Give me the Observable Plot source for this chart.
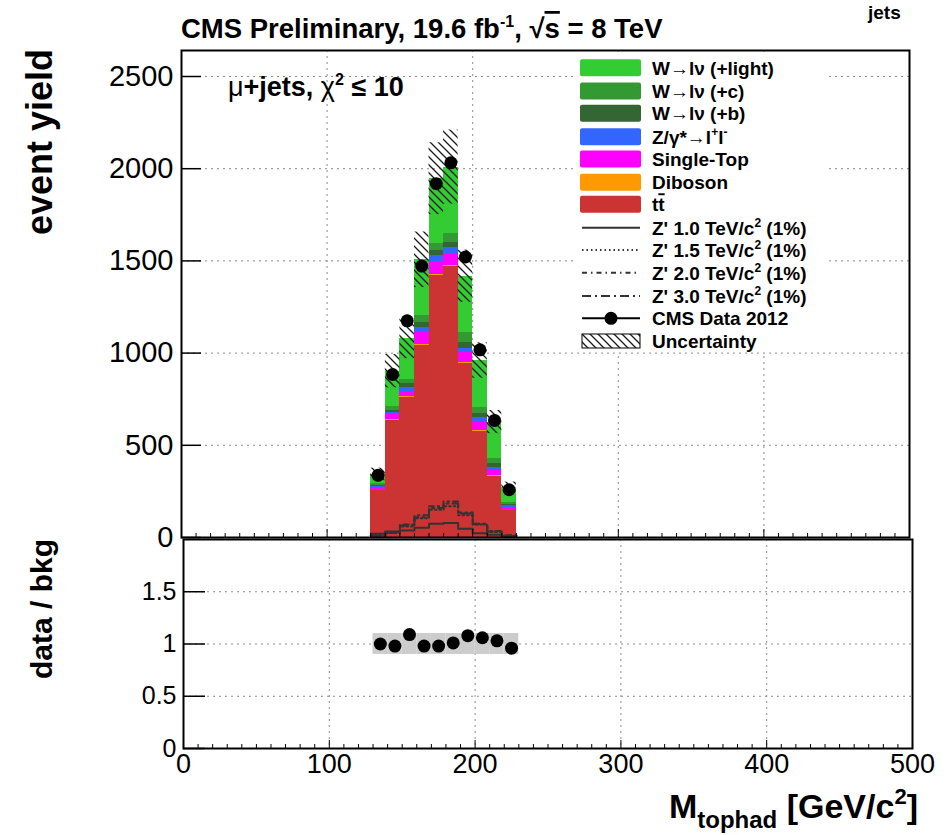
<!DOCTYPE html>
<html><head><meta charset="utf-8">
<script src="https://cdn.jsdelivr.net/npm/d3@7"></script>
<script src="https://cdn.jsdelivr.net/npm/@observablehq/plot@0.6"></script>
<style>
body{margin:0;background:#fff;}
#wrap{position:relative;width:949px;height:835px;overflow:hidden;background:#fff;}
#wrap svg{position:absolute;left:0;top:0;overflow:visible;}
</style></head><body>
<div id="wrap"></div>
<script>
// ---------------- data ----------------
const binLow  = [130,140,150,160,170,180,190,200,210,220];
const binHigh = [140,150,160,170,180,190,200,210,220,230];
const ttbar     = [253,635,760,1041,1422,1471,943,575,332,145];
const diboson   = [2,5,5,6,6,6,5,4,3,2];
const singleTop = [13,26,28,65,67,62,57,50,33,18];
const zjets     = [7,11,23,26,33,31,22,24,14,7];
const wPlusB    = [6,14,17,26,26,31,33,21,18,8];
const wPlusC    = [10,20,26,40,39,46,50,31,27,12];
const wLight    = [51,191,219,302,353,362,307,255,199,81];
const dataYield = [337,884,1175,1472,1919,2032,1521,1018,635,259];
const dataRatio = [1.00,0.98,1.09,0.98,0.98,1.01,1.08,1.06,1.03,0.96];
const relUnc    = [0.10,0.10,0.10,0.10,0.10,0.10,0.10,0.10,0.10,0.10];
const zp1000 = [20,32,38,53,74,78,47,23,15,7];
const zp1500 = [10,25,60,105,150,170,120,70,30,10];
const zp2000 = [12,30,70,120,170,195,135,75,35,12];
const zp3000 = [10,25,65,110,160,185,130,72,32,10];
const xTicks = [0,100,200,300,400,500];
const xMinor = [10,20,30,40,50,60,70,80,90,110,120,130,140,150,160,170,180,190,210,220,230,240,250,260,270,280,290,310,320,330,340,350,360,370,380,390,410,420,430,440,450,460,470,480,490];
const yTicksMain = [0,500,1000,1500,2000,2500];
const yTicksRatio = [0,0.5,1,1.5];
const compNames  = ["tt","Diboson","Single-Top","Z","Wb","Wc","Wlight"];
const compColors = ["#cc3333","#ff9900","#ff00ff","#3366ff","#336633","#339933","#33cc33"];

// ---------------- derived tables ----------------
const FONT = "'Liberation Sans', Arial, Helvetica, sans-serif";
const compValues = [ttbar, diboson, singleTop, zjets, wPlusB, wPlusC, wLight];
const stackRows = [];
compValues.forEach((vals, c) => vals.forEach((v, i) => stackRows.push({x1: binLow[i], x2: binHigh[i], comp: compNames[c], v})));
const totals = binLow.map((_, i) => compValues.reduce((s, vals) => s + vals[i], 0));
const uncRows = binLow.map((lo, i) => ({x1: lo, x2: binHigh[i], y1: totals[i] * (1 - relUnc[i]), y2: totals[i] * (1 + relUnc[i])}));
const bandRows = binLow.map((lo, i) => ({x1: lo, x2: binHigh[i], y1: 1 - relUnc[i], y2: 1 + relUnc[i]}));
const dataRows = binLow.map((lo, i) => ({x: (lo + binHigh[i]) / 2, y: dataYield[i], r: dataRatio[i]}));
function steps(vals) { const p = []; vals.forEach((v, i) => { p.push({x: binLow[i], y: v}); p.push({x: binHigh[i], y: v}); }); return p; }
const sigStyles = [
  {vals: zp1000, dash: null},
  {vals: zp1500, dash: "1.5,3"},
  {vals: zp2000, dash: "5,4,1.5,4"},
  {vals: zp3000, dash: "9,4,2,4"}
];
const grid = {stroke: "#8c8c8c", strokeDasharray: "2,4", strokeWidth: 1};

// ---------------- main panel ----------------
const main = Plot.plot({
  width: 949, height: 538,
  marginLeft: 181, marginRight: 40, marginTop: 50, marginBottom: 1,
  x: {domain: [0, 500], axis: null},
  y: {domain: [0, 2641], axis: null},
  color: {type: "ordinal", domain: compNames, range: compColors},
  style: {fontFamily: FONT, background: "transparent", color: "black", overflow: "visible"},
  marks: [
    Plot.ruleX(xTicks.slice(1, -1), grid),
    Plot.ruleY(yTicksMain.slice(1), grid),
    Plot.rectY(stackRows, {x1: "x1", x2: "x2", y: "v", fill: "comp", order: compNames, shapeRendering: "crispEdges"}),
    Plot.rectY(uncRows, {x1: "x1", x2: "x2", y1: "y1", y2: "y2", fill: "url(#hatch)"}),
    ...sigStyles.map(s => Plot.line(steps(s.vals), {x: "x", y: "y", stroke: "#333", strokeWidth: 2, strokeDasharray: s.dash})),
    Plot.dot(dataRows, {x: "x", y: "y", r: 6.5, fill: "black"}),
    Plot.axisY(yTicksMain, {anchor: "left", tickSize: 0, tickPadding: 8, fontSize: 29, tickFormat: d => String(d), label: null}),
    Plot.axisY(yTicksMain, {anchor: "left", tickSize: -20, fill: "none", label: null, strokeWidth: 1.5}),
    Plot.axisX(xMinor, {anchor: "bottom", tickSize: -4, fill: "none", label: null}),
    Plot.axisX(xTicks, {anchor: "bottom", tickSize: -8, fill: "none", label: null}),
    Plot.frame({stroke: "black", strokeWidth: 2})
  ]
});

// ---------------- ratio panel ----------------
const ratioPlot = Plot.plot({
  width: 949, height: 835,
  marginLeft: 183, marginRight: 37, marginTop: 539, marginBottom: 87,
  x: {domain: [0, 500], axis: null},
  y: {domain: [0, 2], axis: null},
  style: {fontFamily: FONT, background: "transparent", color: "black", overflow: "visible"},
  marks: [
    Plot.ruleX(xTicks.slice(1, -1), grid),
    Plot.ruleY(yTicksRatio.slice(1), grid),
    Plot.rectY(bandRows, {x1: "x1", x2: "x2", y1: "y1", y2: "y2", fill: "#cccccc"}),
    Plot.dot(dataRows, {x: "x", y: "r", r: 6.5, fill: "black"}),
    Plot.axisY(yTicksRatio, {anchor: "left", tickSize: 0, tickPadding: 7, fontSize: 25, tickFormat: d => String(d), label: null}),
    Plot.axisY(yTicksRatio, {anchor: "left", tickSize: -22, fill: "none", label: null, strokeWidth: 1.5}),
    Plot.axisX(xTicks, {anchor: "bottom", tickSize: 0, tickPadding: 5, fontSize: 27, tickFormat: d => String(d), label: null}),
    Plot.axisX(xMinor, {anchor: "bottom", tickSize: -4, fill: "none", label: null}),
    Plot.axisX(xTicks, {anchor: "bottom", tickSize: -8, fill: "none", label: null}),
    Plot.frame({stroke: "black", strokeWidth: 2})
  ]
});

const wrap = document.getElementById("wrap");
wrap.appendChild(main);
wrap.appendChild(ratioPlot);

// hatch pattern
const defs = d3.select(main).insert("defs", ":first-child");
defs.append("pattern").attr("id", "hatch").attr("patternUnits", "userSpaceOnUse").attr("width", 8).attr("height", 8)
  .append("path").attr("d", "M0,0L8,8M-4,4L4,12M4,-4L12,4").attr("stroke", "#1a1a1a").attr("stroke-width", 1.3);

// ---------------- overlay texts & legend ----------------
const ov = d3.select(wrap).append("svg").attr("width", 949).attr("height", 835).attr("font-family", FONT);

// title
const t = ov.append("text").attr("x", 181).attr("y", 38).attr("font-size", 27.5).attr("font-weight", "bold");
t.append("tspan").text("CMS Preliminary, 19.6 fb");
t.append("tspan").attr("font-size", 16).attr("dy", -11).text("-1");
t.append("tspan").attr("dy", 11).text(", √");
t.append("tspan").style("text-decoration", "overline").text("s");
t.append("tspan").text(" = 8 TeV");

ov.append("text").attr("x", 868).attr("y", 19).attr("font-size", 19).attr("font-weight", "bold").text("jets");

const ch = ov.append("text").attr("x", 228).attr("y", 96).attr("font-size", 27).attr("font-weight", "bold");
ch.append("tspan").attr("font-weight", "normal").text("μ");
ch.append("tspan").text("+jets, ");
ch.append("tspan").attr("font-weight", "normal").text("χ");
ch.append("tspan").attr("font-size", 16).attr("dy", -11).text("2");
ch.append("tspan").attr("dy", 11).text(" ≤ 10");

ov.append("text").attr("transform", "translate(52,142) rotate(-90)").attr("text-anchor", "middle")
  .attr("font-size", 36).attr("font-weight", "bold").text("event yield");
ov.append("text").attr("transform", "translate(52,609) rotate(-90)").attr("text-anchor", "middle")
  .attr("font-size", 30).attr("font-weight", "bold").text("data / bkg");

const xl = ov.append("text").attr("x", 918).attr("y", 818).attr("text-anchor", "end").attr("font-size", 34).attr("font-weight", "bold");
xl.append("tspan").text("M");
xl.append("tspan").attr("font-size", 24).attr("dy", 10).text("tophad");
xl.append("tspan").attr("dy", -10).text(" [GeV/c");
xl.append("tspan").attr("font-size", 22).attr("dy", -14).text("2");
xl.append("tspan").attr("dy", 14).text("]");

// legend
ov.append("rect").attr("x", 574).attr("y", 53).attr("width", 252).attr("height", 299).attr("fill", "white");
const legY = [67.7, 91, 113.3, 136.7, 159, 182.3, 204.3, 227.7, 250, 272.7, 296, 318.3, 341];
const fillEntries = [
  {c: "#33cc33", parts: [["W→lν (+light)"]]},
  {c: "#339933", parts: [["W→lν (+c)"]]},
  {c: "#336633", parts: [["W→lν (+b)"]]},
  {c: "#3366ff", parts: [["Z/γ*→l"], ["+", "sup"], ["l"], ["-", "sup"]]},
  {c: "#ff00ff", parts: [["Single-Top"]]},
  {c: "#ff9900", parts: [["Diboson"]]},
  {c: "#cc3333", parts: [["t"], ["t", "bar"]]}
];
const lineEntries = [
  {dash: null, m: "1.0"}, {dash: "1.5,3", m: "1.5"}, {dash: "5,4,1.5,4", m: "2.0"}, {dash: "9,4,2,4", m: "3.0"}
];
function legText(y, parts) {
  const tx = ov.append("text").attr("x", 652).attr("y", y + 7).attr("font-size", 19).attr("font-weight", "bold");
  let up = false;
  parts.forEach(([s, k]) => {
    const sp = tx.append("tspan").text(s);
    if (k === "sup") { sp.attr("font-size", 12).attr("dy", up ? 0 : -8); up = true; }
    else { if (up) { sp.attr("dy", 8); up = false; } }
    if (k === "bar") sp.style("text-decoration", "overline");
  });
}
fillEntries.forEach((e, i) => {
  ov.append("rect").attr("x", 580).attr("y", legY[i] - 8.5).attr("width", 61).attr("height", 17).attr("rx", 2).attr("fill", e.c);
  legText(legY[i], e.parts);
});
lineEntries.forEach((e, j) => {
  const y = legY[7 + j];
  ov.append("line").attr("x1", 582).attr("x2", 640).attr("y1", y).attr("y2", y).attr("stroke", "#333").attr("stroke-width", 2).attr("stroke-dasharray", e.dash);
  legText(y, [["Z' " + e.m + " TeV/c"], ["2", "sup"], [" (1%)"]]);
});
{
  const y = legY[11];
  ov.append("line").attr("x1", 582).attr("x2", 640).attr("y1", y).attr("y2", y).attr("stroke", "black").attr("stroke-width", 2);
  ov.append("circle").attr("cx", 611).attr("cy", y).attr("r", 6.5).attr("fill", "black");
  legText(y, [["CMS Data 2012"]]);
  const y2 = legY[12];
  ov.append("rect").attr("x", 582).attr("y", y2 - 7).attr("width", 58).attr("height", 14).attr("fill", "url(#hatch)").attr("stroke", "black").attr("stroke-width", 1);
  legText(y2, [["Uncertainty"]]);
}
</script>
</body></html>
